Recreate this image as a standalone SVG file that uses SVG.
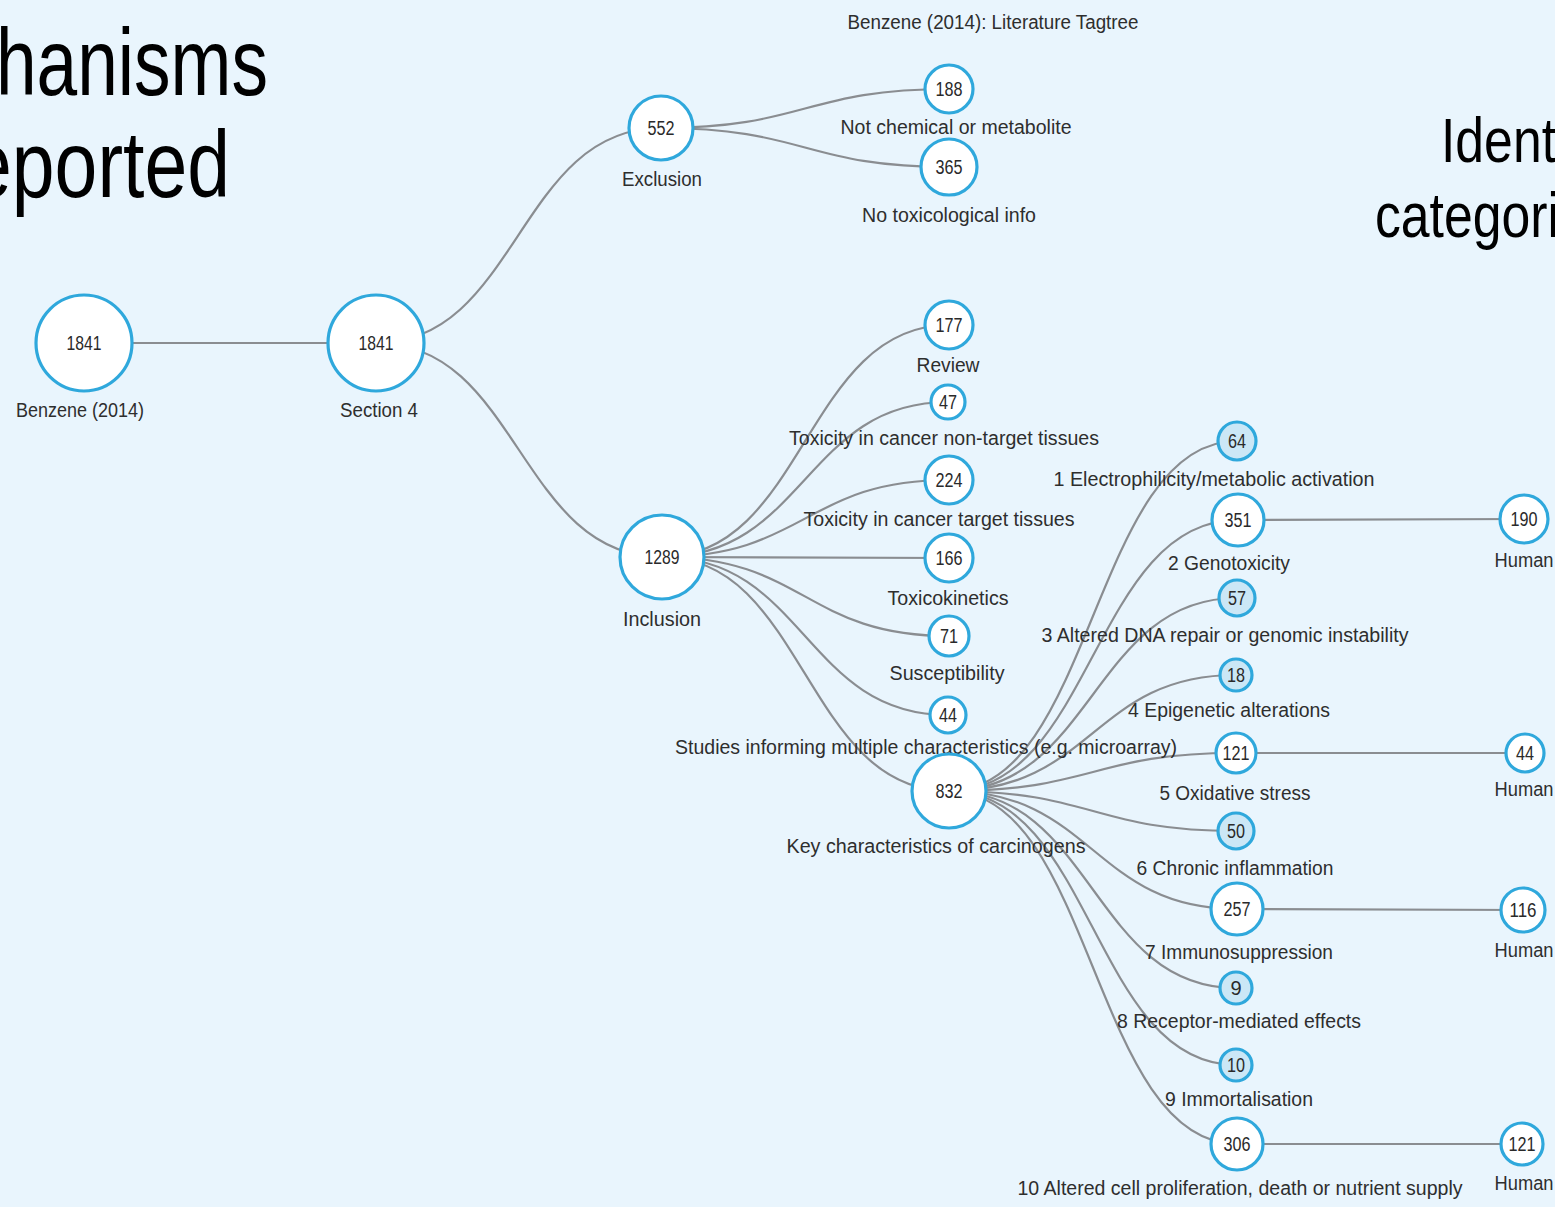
<svg xmlns="http://www.w3.org/2000/svg" width="1555" height="1207" viewBox="0 0 1555 1207">
<style>
.bg{fill:#e9f5fd}
.big{font-family:"Liberation Sans",Arial,sans-serif;fill:#000}
.link{fill:none;stroke:#8a8d91;stroke-width:2.2}
.nd{fill:#fff;stroke:#2fa8dc;stroke-width:3.2}
.nd.f{fill:#cbe7f6}
.num{font-family:"Liberation Sans",Arial,sans-serif;font-size:20px;fill:#2a2a2a;text-anchor:middle}
.lbl{font-family:"Liberation Sans",Arial,sans-serif;font-size:20px;fill:#2e2e2e;text-anchor:middle}
</style>
<rect class="bg" x="0" y="0" width="1555" height="1207"/>
<text class="big" x="-4" y="95" font-size="94" textLength="272" lengthAdjust="spacingAndGlyphs">hanisms</text>
<text class="big" x="-31" y="197" font-size="94" textLength="261" lengthAdjust="spacingAndGlyphs">eported</text>
<text class="big" x="1441" y="162" font-size="63" textLength="115" lengthAdjust="spacingAndGlyphs">Ident</text>
<text class="big" x="1375" y="237" font-size="63" textLength="184" lengthAdjust="spacingAndGlyphs">categori</text>
<text class="lbl" x="993" y="29" textLength="291" lengthAdjust="spacingAndGlyphs">Benzene (2014): Literature Tagtree</text>
<g id="connectors">
<path class="link" d="M84,343 L376,343"/>
<path class="link" d="M376,343 C518,343 518,128 661,128"/>
<path class="link" d="M376,343 C519,343 519,557 662,557"/>
<path class="link" d="M661,128 C805,128 805,89 949,89"/>
<path class="link" d="M661,128 C805,128 805,167 949,167"/>
<path class="link" d="M662,557 C805,557 805,325 949,325"/>
<path class="link" d="M662,557 C805,557 805,402 948,402"/>
<path class="link" d="M662,557 C805,557 805,480 949,480"/>
<path class="link" d="M662,557 L949,558"/>
<path class="link" d="M662,557 C805,557 805,636 949,636"/>
<path class="link" d="M662,557 C805,557 805,715 948,715"/>
<path class="link" d="M662,557 C805,557 805,791 949,791"/>
<path class="link" d="M949,791 C1093,791 1093,441 1237,441"/>
<path class="link" d="M949,791 C1093,791 1093,520 1238,520"/>
<path class="link" d="M949,791 C1093,791 1093,598 1237,598"/>
<path class="link" d="M949,791 C1093,791 1093,675 1236,675"/>
<path class="link" d="M949,791 C1093,791 1093,753 1236,753"/>
<path class="link" d="M949,791 C1093,791 1093,831 1236,831"/>
<path class="link" d="M949,791 C1093,791 1093,909 1237,909"/>
<path class="link" d="M949,791 C1093,791 1093,988 1236,988"/>
<path class="link" d="M949,791 C1093,791 1093,1065 1236,1065"/>
<path class="link" d="M949,791 C1093,791 1093,1144 1237,1144"/>
<path class="link" d="M1238,520 L1524,519"/>
<path class="link" d="M1236,753 L1525,753"/>
<path class="link" d="M1237,909 L1523,910"/>
<path class="link" d="M1237,1144 L1522,1144"/>
</g>
<g id="n0"><circle class="nd" cx="84" cy="343" r="48"/><text class="num" x="84" y="350" textLength="35" lengthAdjust="spacingAndGlyphs">1841</text><text class="lbl" x="80" y="417" textLength="128" lengthAdjust="spacingAndGlyphs">Benzene (2014)</text></g>
<g id="n1"><circle class="nd" cx="376" cy="343" r="48"/><text class="num" x="376" y="350" textLength="35" lengthAdjust="spacingAndGlyphs">1841</text><text class="lbl" x="379" y="417" textLength="78" lengthAdjust="spacingAndGlyphs">Section 4</text></g>
<g id="n2"><circle class="nd" cx="661" cy="128" r="32"/><text class="num" x="661" y="135" textLength="27" lengthAdjust="spacingAndGlyphs">552</text><text class="lbl" x="662" y="186" textLength="80" lengthAdjust="spacingAndGlyphs">Exclusion</text></g>
<g id="n3"><circle class="nd" cx="949" cy="89" r="24"/><text class="num" x="949" y="96" textLength="27" lengthAdjust="spacingAndGlyphs">188</text><text class="lbl" x="956" y="134" textLength="231" lengthAdjust="spacingAndGlyphs">Not chemical or metabolite</text></g>
<g id="n4"><circle class="nd" cx="949" cy="167" r="28"/><text class="num" x="949" y="174" textLength="27" lengthAdjust="spacingAndGlyphs">365</text><text class="lbl" x="949" y="222" textLength="174" lengthAdjust="spacingAndGlyphs">No toxicological info</text></g>
<g id="n5"><circle class="nd" cx="662" cy="557" r="42"/><text class="num" x="662" y="564" textLength="35" lengthAdjust="spacingAndGlyphs">1289</text><text class="lbl" x="662" y="626" textLength="78" lengthAdjust="spacingAndGlyphs">Inclusion</text></g>
<g id="n6"><circle class="nd" cx="949" cy="325" r="24"/><text class="num" x="949" y="332" textLength="27" lengthAdjust="spacingAndGlyphs">177</text><text class="lbl" x="948" y="372" textLength="63" lengthAdjust="spacingAndGlyphs">Review</text></g>
<g id="n7"><circle class="nd" cx="948" cy="402" r="17"/><text class="num" x="948" y="409" textLength="18" lengthAdjust="spacingAndGlyphs">47</text><text class="lbl" x="944" y="445" textLength="310" lengthAdjust="spacingAndGlyphs">Toxicity in cancer non-target tissues</text></g>
<g id="n8"><circle class="nd" cx="949" cy="480" r="24"/><text class="num" x="949" y="487" textLength="27" lengthAdjust="spacingAndGlyphs">224</text><text class="lbl" x="939" y="526" textLength="271" lengthAdjust="spacingAndGlyphs">Toxicity in cancer target tissues</text></g>
<g id="n9"><circle class="nd" cx="949" cy="558" r="24"/><text class="num" x="949" y="565" textLength="27" lengthAdjust="spacingAndGlyphs">166</text><text class="lbl" x="948" y="605" textLength="121" lengthAdjust="spacingAndGlyphs">Toxicokinetics</text></g>
<g id="n10"><circle class="nd" cx="949" cy="636" r="20"/><text class="num" x="949" y="643" textLength="18" lengthAdjust="spacingAndGlyphs">71</text><text class="lbl" x="947" y="680" textLength="115" lengthAdjust="spacingAndGlyphs">Susceptibility</text></g>
<g id="n11"><circle class="nd" cx="948" cy="715" r="18"/><text class="num" x="948" y="722" textLength="18" lengthAdjust="spacingAndGlyphs">44</text><text class="lbl" x="926" y="754" textLength="502" lengthAdjust="spacingAndGlyphs">Studies informing multiple characteristics (e.g. microarray)</text></g>
<g id="n12"><circle class="nd" cx="949" cy="791" r="37"/><text class="num" x="949" y="798" textLength="27" lengthAdjust="spacingAndGlyphs">832</text><text class="lbl" x="936" y="853" textLength="299" lengthAdjust="spacingAndGlyphs">Key characteristics of carcinogens</text></g>
<g id="n13"><circle class="nd f" cx="1237" cy="441" r="19"/><text class="num" x="1237" y="448" textLength="18" lengthAdjust="spacingAndGlyphs">64</text><text class="lbl" x="1214" y="486" textLength="321" lengthAdjust="spacingAndGlyphs">1 Electrophilicity/metabolic activation</text></g>
<g id="n14"><circle class="nd" cx="1238" cy="520" r="26"/><text class="num" x="1238" y="527" textLength="27" lengthAdjust="spacingAndGlyphs">351</text><text class="lbl" x="1229" y="570" textLength="122" lengthAdjust="spacingAndGlyphs">2 Genotoxicity</text></g>
<g id="n15"><circle class="nd f" cx="1237" cy="598" r="18"/><text class="num" x="1237" y="605" textLength="18" lengthAdjust="spacingAndGlyphs">57</text><text class="lbl" x="1225" y="642" textLength="367" lengthAdjust="spacingAndGlyphs">3 Altered DNA repair or genomic instability</text></g>
<g id="n16"><circle class="nd f" cx="1236" cy="675" r="16"/><text class="num" x="1236" y="682" textLength="18" lengthAdjust="spacingAndGlyphs">18</text><text class="lbl" x="1229" y="717" textLength="202" lengthAdjust="spacingAndGlyphs">4 Epigenetic alterations</text></g>
<g id="n17"><circle class="nd" cx="1236" cy="753" r="20"/><text class="num" x="1236" y="760" textLength="27" lengthAdjust="spacingAndGlyphs">121</text><text class="lbl" x="1235" y="800" textLength="151" lengthAdjust="spacingAndGlyphs">5 Oxidative stress</text></g>
<g id="n18"><circle class="nd f" cx="1236" cy="831" r="18"/><text class="num" x="1236" y="838" textLength="18" lengthAdjust="spacingAndGlyphs">50</text><text class="lbl" x="1235" y="875" textLength="197" lengthAdjust="spacingAndGlyphs">6 Chronic inflammation</text></g>
<g id="n19"><circle class="nd" cx="1237" cy="909" r="26"/><text class="num" x="1237" y="916" textLength="27" lengthAdjust="spacingAndGlyphs">257</text><text class="lbl" x="1239" y="959" textLength="188" lengthAdjust="spacingAndGlyphs">7 Immunosuppression</text></g>
<g id="n20"><circle class="nd f" cx="1236" cy="988" r="16"/><text class="num" x="1236" y="995">9</text><text class="lbl" x="1239" y="1028" textLength="244" lengthAdjust="spacingAndGlyphs">8 Receptor-mediated effects</text></g>
<g id="n21"><circle class="nd f" cx="1236" cy="1065" r="16"/><text class="num" x="1236" y="1072" textLength="18" lengthAdjust="spacingAndGlyphs">10</text><text class="lbl" x="1239" y="1106" textLength="148" lengthAdjust="spacingAndGlyphs">9 Immortalisation</text></g>
<g id="n22"><circle class="nd" cx="1237" cy="1144" r="26"/><text class="num" x="1237" y="1151" textLength="27" lengthAdjust="spacingAndGlyphs">306</text><text class="lbl" x="1240" y="1195" textLength="445" lengthAdjust="spacingAndGlyphs">10 Altered cell proliferation, death or nutrient supply</text></g>
<g id="n23"><circle class="nd" cx="1524" cy="519" r="24"/><text class="num" x="1524" y="526" textLength="27" lengthAdjust="spacingAndGlyphs">190</text><text class="lbl" x="1524" y="567" textLength="59" lengthAdjust="spacingAndGlyphs">Human</text></g>
<g id="n24"><circle class="nd" cx="1525" cy="753" r="19"/><text class="num" x="1525" y="760" textLength="18" lengthAdjust="spacingAndGlyphs">44</text><text class="lbl" x="1524" y="796" textLength="59" lengthAdjust="spacingAndGlyphs">Human</text></g>
<g id="n25"><circle class="nd" cx="1523" cy="910" r="22"/><text class="num" x="1523" y="917" textLength="27" lengthAdjust="spacingAndGlyphs">116</text><text class="lbl" x="1524" y="957" textLength="59" lengthAdjust="spacingAndGlyphs">Human</text></g>
<g id="n26"><circle class="nd" cx="1522" cy="1144" r="21"/><text class="num" x="1522" y="1151" textLength="27" lengthAdjust="spacingAndGlyphs">121</text><text class="lbl" x="1524" y="1190" textLength="59" lengthAdjust="spacingAndGlyphs">Human</text></g>
</svg>
